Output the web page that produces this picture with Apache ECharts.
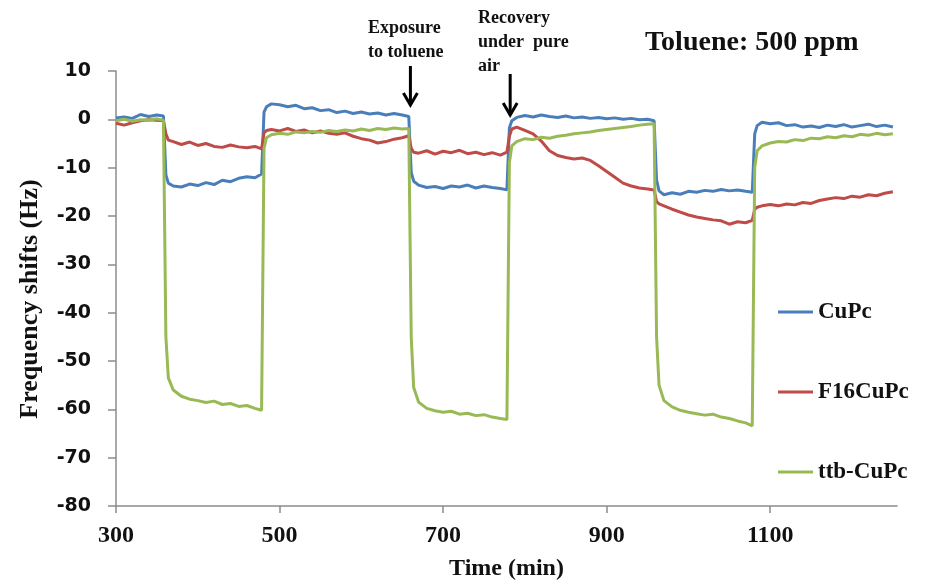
<!DOCTYPE html>
<html>
<head>
<meta charset="utf-8">
<title>Toluene: 500 ppm</title>
<script src="https://cdn.jsdelivr.net/npm/echarts@6/dist/echarts.min.js"></script>
<style>
html, body { margin: 0; padding: 0; background: #ffffff; }
#chart { width: 926px; height: 586px; }
</style>
</head>
<body>
<div id="chart"></div>
<script>
// time in min, one entry per reading (step edges get extra points)
var times = [300,310,320,330,340,350,358,
  361,364,370,380,390,400,410,420,430,440,450,460,470,478,
  481,484,490,500,510,520,530,540,550,560,570,580,590,600,610,620,630,640,650,658,
  661,664,670,680,690,700,710,720,730,740,750,760,770,778,
  781,784,790,800,810,820,830,840,850,860,870,880,890,900,910,920,930,940,950,958,
  961,964,970,980,990,1000,1010,1020,1030,1040,1050,1060,1070,1078,
  1081,1084,1090,1100,1110,1120,1130,1140,1150,1160,1170,1180,1190,1200,1210,1220,1230,1240,1250];

var cuPc = [0.3,0.5,0.2,1.0,0.6,0.9,0.7,
  -11.5,-13.2,-13.8,-14.0,-13.4,-13.7,-13.1,-13.5,-12.6,-12.9,-12.2,-11.9,-12.1,-11.3,
  1.5,2.6,3.2,3.0,2.6,2.9,2.2,2.4,1.8,2.0,1.4,1.7,1.2,1.5,1.1,1.3,0.9,1.2,0.9,0.6,
  -11.0,-12.8,-13.6,-14.1,-13.9,-14.3,-13.8,-14.0,-13.6,-14.2,-13.8,-14.1,-14.3,-14.6,
  -1.8,-0.3,0.4,0.8,0.5,0.9,0.6,0.4,0.7,0.3,0.5,0.2,0.4,0.1,0.3,0.0,0.2,-0.1,0.0,-0.3,
  -12.5,-14.8,-15.6,-15.2,-15.5,-14.9,-15.1,-14.7,-14.9,-14.5,-14.8,-14.6,-14.9,-15.1,
  -3.0,-1.3,-0.6,-0.9,-0.7,-1.3,-1.1,-1.6,-1.4,-1.7,-1.2,-1.5,-1.1,-1.6,-1.3,-1.0,-1.5,-1.2,-1.6];

var f16CuPc = [-0.8,-1.2,-0.7,-0.3,-0.1,-0.2,-0.3,
  -3.0,-4.3,-4.6,-5.2,-4.7,-5.4,-5.0,-5.6,-5.8,-5.3,-5.7,-5.9,-5.6,-6.1,
  -2.8,-2.3,-2.1,-2.4,-1.9,-2.5,-2.2,-2.8,-2.4,-2.9,-3.1,-2.8,-3.5,-4.0,-4.3,-4.9,-4.6,-4.1,-3.8,-3.4,
  -6.0,-6.8,-7.0,-6.5,-7.2,-6.6,-6.9,-6.4,-7.1,-6.8,-7.3,-6.9,-7.4,-6.8,
  -3.5,-2.0,-1.6,-2.3,-3.0,-4.5,-6.5,-7.5,-7.9,-8.2,-8.0,-8.5,-9.6,-10.8,-12.0,-13.2,-13.8,-14.2,-14.4,-14.6,
  -17.0,-17.5,-17.9,-18.6,-19.2,-19.8,-20.2,-20.5,-20.8,-21.0,-21.7,-21.2,-21.4,-20.9,
  -18.6,-18.2,-17.9,-17.6,-17.9,-17.5,-17.7,-17.2,-17.4,-16.8,-16.5,-16.2,-16.4,-15.9,-16.1,-15.6,-15.8,-15.3,-15.0];

var ttbCuPc = [-0.3,0.0,-0.4,-0.1,-0.2,0.1,-0.2,
  -45.0,-53.5,-56.0,-57.3,-57.9,-58.2,-58.6,-58.3,-59.0,-58.8,-59.4,-59.2,-59.8,-60.2,
  -6.0,-3.8,-3.2,-2.9,-3.1,-2.6,-2.8,-2.5,-2.7,-2.3,-2.5,-2.2,-2.4,-2.0,-2.3,-1.9,-2.1,-1.8,-2.0,-1.9,
  -45.0,-55.5,-58.5,-59.8,-60.3,-60.6,-60.4,-61.0,-60.8,-61.3,-61.1,-61.6,-61.9,-62.1,
  -9.0,-5.5,-4.6,-4.0,-4.2,-3.7,-3.9,-3.5,-3.3,-3.0,-2.8,-2.6,-2.3,-2.1,-1.9,-1.7,-1.5,-1.2,-1.0,-0.9,
  -45.0,-55.0,-58.2,-59.5,-60.2,-60.6,-60.9,-61.2,-61.0,-61.6,-61.9,-62.4,-62.8,-63.4,
  -10.0,-6.5,-5.5,-4.9,-4.6,-4.7,-4.2,-4.4,-3.9,-4.0,-3.6,-3.8,-3.4,-3.6,-3.1,-3.3,-2.9,-3.2,-3.0];

var seriesNames = ['CuPc', 'F16CuPc', 'ttb-CuPc'];
var seriesColors = ['#4a7ebb', '#be4b48', '#98b954'];

var serif = '"Liberation Serif", "Times New Roman", serif';
var myChart = echarts.init(document.getElementById('chart'));

function pairs(vals) {
  var out = [];
  for (var i = 0; i < times.length; i++) {
    out.push([times[i], vals[i]]);
  }
  return out;
}

function lineSeries(i, vals) {
  return {
    name: seriesNames[i],
    type: 'line',
    data: pairs(vals),
    showSymbol: false,
    color: seriesColors[i],
    lineStyle: { width: 3, color: seriesColors[i] }
  };
}

var option = {
  animation: false,
  backgroundColor: '#ffffff',
  title: {
    text: 'Toluene: 500 ppm',
    left: 640,
    top: 24,
    textStyle: { fontFamily: serif, fontWeight: 'bold', fontSize: 28, color: '#111' }
  },
  legend: {
    orient: 'vertical',
    left: 773,
    top: 295,
    itemWidth: 35,
    itemHeight: 3,
    itemGap: 56,
    icon: 'rect',
    data: seriesNames,
    textStyle: { fontFamily: serif, fontWeight: 'bold', fontSize: 23, lineHeight: 24, color: '#111' }
  },
  grid: { left: 116, right: 29, top: 71, bottom: 79 },
  xAxis: {
    type: 'value',
    min: 300,
    max: 1255,
    interval: 200,
    name: 'Time (min)',
    nameLocation: 'middle',
    nameGap: 51,
    nameTextStyle: { fontFamily: serif, fontWeight: 'bold', fontSize: 24, color: '#111' },
    axisLine: { onZero: false, lineStyle: { color: '#8c8c8c', width: 1.5 } },
    axisTick: { length: 7, lineStyle: { color: '#8c8c8c', width: 1.5 } },
    axisLabel: {
      margin: 18, showMaxLabel: false,
      formatter: function (v) { return String(v); },
      fontFamily: serif, fontWeight: 'bold', fontSize: 24, color: '#111'
    },
    splitLine: { show: false }
  },
  yAxis: {
    type: 'value',
    min: -80,
    max: 10,
    interval: 10,
    axisLine: { show: true, onZero: false, lineStyle: { color: '#8c8c8c', width: 1.5 } },
    axisTick: { show: true, length: 8, lineStyle: { color: '#8c8c8c', width: 1.5 } },
    axisLabel: { margin: 25, fontFamily: '"DejaVu Sans", sans-serif', fontWeight: 'bold', fontSize: 19, color: '#111' },
    splitLine: { show: false }
  },
  series: [lineSeries(0, cuPc), lineSeries(1, f16CuPc), lineSeries(2, ttbCuPc)]
};
myChart.setOption(option);

// annotations: arrows sit at the exposure / recovery switch times
var pExp = myChart.convertToPixel({ gridIndex: 0 }, [660, 0]);
var pRec = myChart.convertToPixel({ gridIndex: 0 }, [782, 0]);

function arrow(x, y1, y2) {
  return {
    type: 'group',
    children: [
      { type: 'line', shape: { x1: x, y1: y1, x2: x, y2: y2 }, style: { stroke: '#000', lineWidth: 3 } },
      { type: 'polyline', shape: { points: [[x - 7, y2 - 12], [x, y2], [x + 7, y2 - 12]] }, style: { stroke: '#000', lineWidth: 3, fill: null } }
    ]
  };
}

function note(text, x, y) {
  return {
    type: 'text',
    x: x,
    y: y,
    style: { text: text, fontFamily: serif, fontWeight: 'bold', fontSize: 18, fill: '#111', verticalAlign: 'middle' }
  };
}

myChart.setOption({
  graphic: [
    {
      type: 'text',
      x: 30,
      y: 299,
      rotation: Math.PI / 2,
      style: { text: 'Frequency shifts (Hz)', fontFamily: serif, fontWeight: 'bold', fontSize: 26, fill: '#111', align: 'center', verticalAlign: 'middle' }
    },
    note('Exposure', 368, 28),
    note('to toluene', 368, 52),
    note('Recovery', 478, 18),
    note('under  pure', 478, 42),
    note('air', 478, 66),
    arrow(pExp[0], 66, 105),
    arrow(pRec[0], 74, 115)
  ]
});
</script>
</body>
</html>
